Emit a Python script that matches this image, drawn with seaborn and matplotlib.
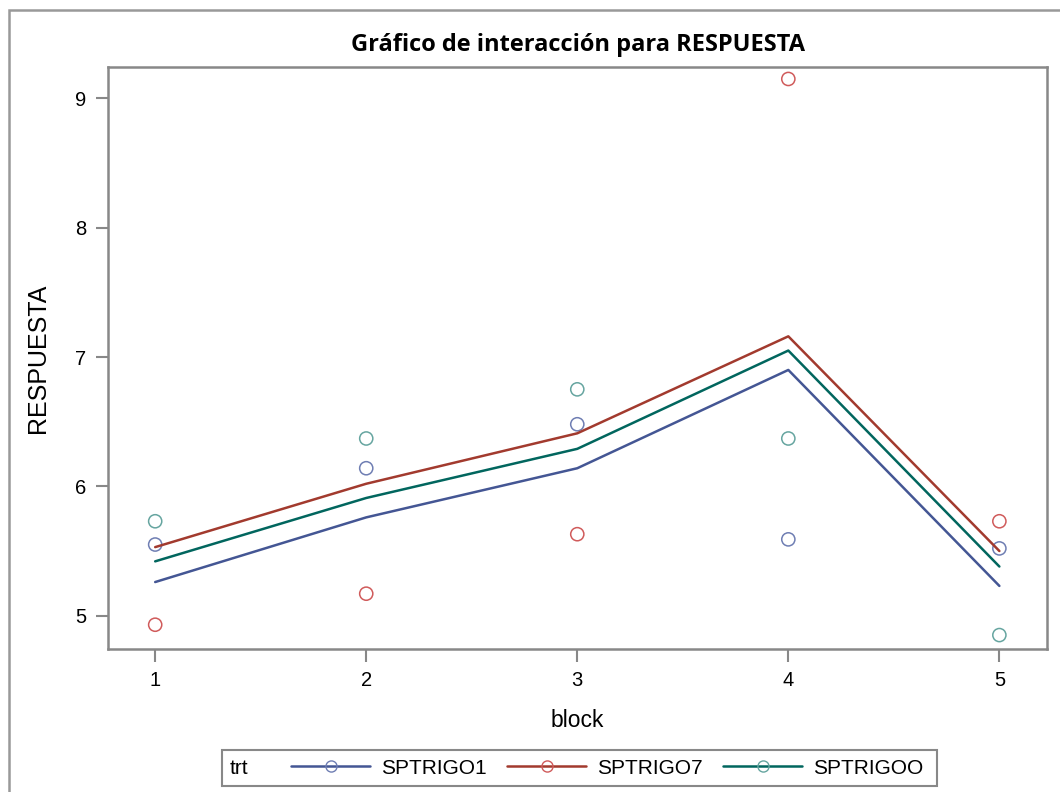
import matplotlib
matplotlib.use("Agg")
import matplotlib.pyplot as plt
import seaborn as sns
import pandas as pd
from matplotlib.lines import Line2D
from matplotlib.patches import Rectangle

# observed values per block
blocks = [1, 2, 3, 4, 5]
treatments = ["SPTRIGO1", "SPTRIGO7", "SPTRIGOO"]
obs_sptrigo1 = [5.55, 6.14, 6.48, 5.59, 5.52]
obs_sptrigo7 = [4.93, 5.17, 5.63, 9.15, 5.73]
obs_sptrigoo = [5.73, 6.37, 6.75, 6.37, 4.85]

# fitted (additive model) lines
fit_sptrigo1 = [5.26, 5.76, 6.14, 6.90, 5.23]
fit_sptrigo7 = [5.53, 6.02, 6.41, 7.16, 5.50]
fit_sptrigoo = [5.42, 5.91, 6.29, 7.05, 5.38]

line_colors = ["#445694", "#A23A2E", "#01665E"]
marker_colors = ["#6F7EB3", "#D05B5B", "#66A5A0"]

obs = pd.DataFrame({
    "block": blocks * 3,
    "trt": [t for t in treatments for _ in blocks],
    "RESPUESTA": obs_sptrigo1 + obs_sptrigo7 + obs_sptrigoo,
})
fit = pd.DataFrame({
    "block": blocks * 3,
    "trt": [t for t in treatments for _ in blocks],
    "RESPUESTA": fit_sptrigo1 + fit_sptrigo7 + fit_sptrigoo,
})

sns.set_style("white")
plt.rcParams["font.family"] = ["Liberation Sans", "DejaVu Sans"]
plt.rcParams["text.color"] = "black"
plt.rcParams["axes.labelcolor"] = "black"
plt.rcParams["xtick.color"] = "black"
plt.rcParams["ytick.color"] = "black"

fig = plt.figure(figsize=(10.6, 7.92), dpi=100)
ax = fig.add_axes([0.102, 0.181, 0.886, 0.734])

sns.lineplot(data=fit, x="block", y="RESPUESTA", hue="trt", hue_order=treatments,
             palette=line_colors, linewidth=1.8, legend=False, ax=ax)
sns.scatterplot(data=obs, x="block", y="RESPUESTA", hue="trt", hue_order=treatments,
                palette=marker_colors, marker="o", s=90, linewidth=1.1,
                legend=False, ax=ax)
# hollow markers, edge coloured by treatment
pts = ax.collections[-1]
pts.set_edgecolors([marker_colors[treatments.index(t)] for t in obs["trt"]])
pts.set_facecolors("none")

ax.set_xlim(0.777, 5.227)
ax.set_ylim(4.745, 9.24)
ax.set_xticks(blocks)
ax.set_yticks([5, 6, 7, 8, 9])
ax.set_xlabel("block", fontsize=16.5, labelpad=14)
ax.set_ylabel("RESPUESTA", fontsize=18, labelpad=18)
ax.set_title("Gráfico de interacción para RESPUESTA", fontsize=17,
             fontweight="bold", pad=12, family=["Open Sans", "DejaVu Sans"])
ax.tick_params(axis="both", direction="out", length=9, width=1.5,
               labelcolor="black", labelsize=14.5, left=True, bottom=True, pad=7)
ax.tick_params(axis="both", color="#888888")
for sp in ax.spines.values():
    sp.set_color("#888888")
    sp.set_linewidth(1.8)

# legend with inline title
handles = [Line2D([0], [0], color=lc, linewidth=1.8, marker="o", markersize=8,
                  markerfacecolor="none", markeredgecolor=mc, markeredgewidth=1.0)
           for lc, mc in zip(line_colors, marker_colors)]
fig.legend(handles, treatments, loc="center", bbox_to_anchor=(607 / 1060, 1 - 768 / 792),
           ncol=3, frameon=False, fontsize=15, handlelength=3.8, handletextpad=0.5,
           columnspacing=1.0)
fig.text(230 / 1060, 1 - 768 / 792, "trt", fontsize=15, va="center", ha="left")
fig.patches.append(Rectangle((222 / 1060, 1 - 786 / 792), (937 - 222) / 1060, 36 / 792,
                             transform=fig.transFigure, fill=False,
                             edgecolor="#888888", linewidth=1.5))
# outer graph border
fig.patches.append(Rectangle((9 / 1060, -0.1), 1.2, 1 - 10 / 792 + 0.1,
                             transform=fig.transFigure, fill=False,
                             edgecolor="#999999", linewidth=1.8))

fig.savefig("out.png", dpi=100)
